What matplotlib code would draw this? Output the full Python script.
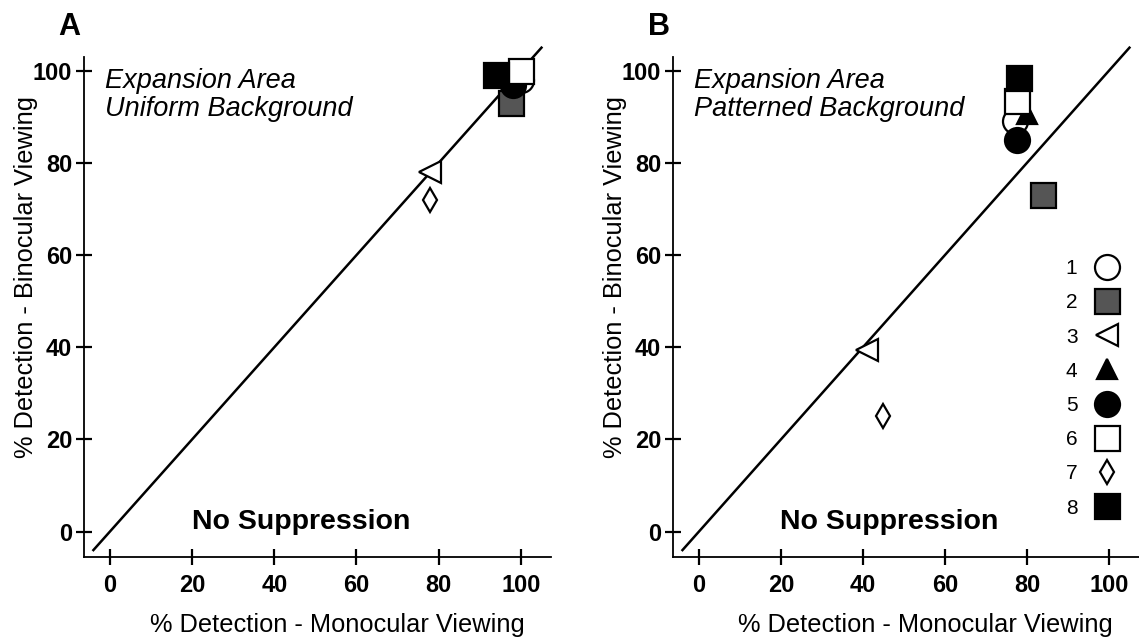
import matplotlib
matplotlib.use("Agg")
import matplotlib.pyplot as plt

plt.rcParams["font.family"] = ["Liberation Sans", "DejaVu Sans"]

# Observer identifiers and their marker styles
observers = ["1", "2", "3", "4", "5", "6", "7", "8"]
markers = ["o", "s", "<", "^", "o", "s", "d", "s"]
faces = ["white", "#555555", "white", "black", "black", "white", "white", "black"]
sizes = [18, 18, 16, 14, 18, 18, 12.5, 18]

# Panel A: uniform background (% detection)
a_mono = [100, 97.5, 78, 95, 98, 100, 78, 94]
a_bino = [98, 93, 78, 99, 97, 100, 72, 99]

# Panel B: patterned background (% detection)
b_mono = [77, 84, 41, 80, 77.5, 77.5, 45, 78]
b_bino = [89, 73, 39.5, 90.5, 85, 93.5, 25, 98.5]

ticks = [0, 20, 40, 60, 80, 100]
diag = [-4, 105]

fig = plt.figure(figsize=(11.39, 6.42), dpi=100)
axA = fig.add_axes([0.0737, 0.1324, 0.41, 0.779])
axB = fig.add_axes([0.5909, 0.1324, 0.409, 0.779])

panels = [
    (axA, a_mono, a_bino, "A", "Expansion Area\nUniform Background"),
    (axB, b_mono, b_bino, "B", "Expansion Area\nPatterned Background"),
]

for ax, xs, ys, letter, title in panels:
    ax.plot(diag, diag, color="black", lw=1.8, zorder=1, clip_on=False)
    for i, lab in enumerate(observers):
        ax.plot([xs[i]], [ys[i]], linestyle="none", marker=markers[i],
                markersize=sizes[i], markerfacecolor=faces[i],
                markeredgecolor="black", markeredgewidth=1.6,
                label=lab, zorder=3 + i, clip_on=False)
    ax.set_xlim(-6.3, 107.3)
    ax.set_ylim(-5.5, 103)
    ax.set_xticks(ticks)
    ax.set_yticks(ticks)
    for side in ("top", "right"):
        ax.spines[side].set_visible(False)
    for side in ("left", "bottom"):
        ax.spines[side].set_linewidth(1.3)
    ax.tick_params(direction="inout", length=11, width=1.6, labelsize=17)
    ax.tick_params(axis="x", pad=7)
    ax.tick_params(axis="y", pad=3)
    for t in ax.get_xticklabels() + ax.get_yticklabels():
        t.set_fontweight("bold")
    ax.set_xlabel("% Detection - Monocular Viewing", fontsize=18.3)
    ax.set_ylabel("% Detection - Binocular Viewing", fontsize=18.3)
    ax.xaxis.set_label_coords(0.542, -0.112)
    ax.yaxis.set_label_coords(-0.0985, 0.56)
    ax.text(0.045, 0.977, title, transform=ax.transAxes, ha="left", va="top",
            fontsize=19.5, style="italic", linespacing=1.06)
    ax.text(0.465, 0.07, "No Suppression", transform=ax.transAxes, ha="center",
            va="center", fontsize=20.5, fontweight="bold")
    ax.text(-0.054, 1.03, letter, transform=ax.transAxes, ha="left",
            va="bottom", fontsize=22, fontweight="bold")

axB.legend(loc="lower right", bbox_to_anchor=(0.98, 0.058), frameon=False,
           markerfirst=False, handlelength=1.2, handletextpad=0.8,
           labelspacing=0.73, fontsize=15, borderpad=0, numpoints=1)

fig.savefig("out.png", dpi=100)
